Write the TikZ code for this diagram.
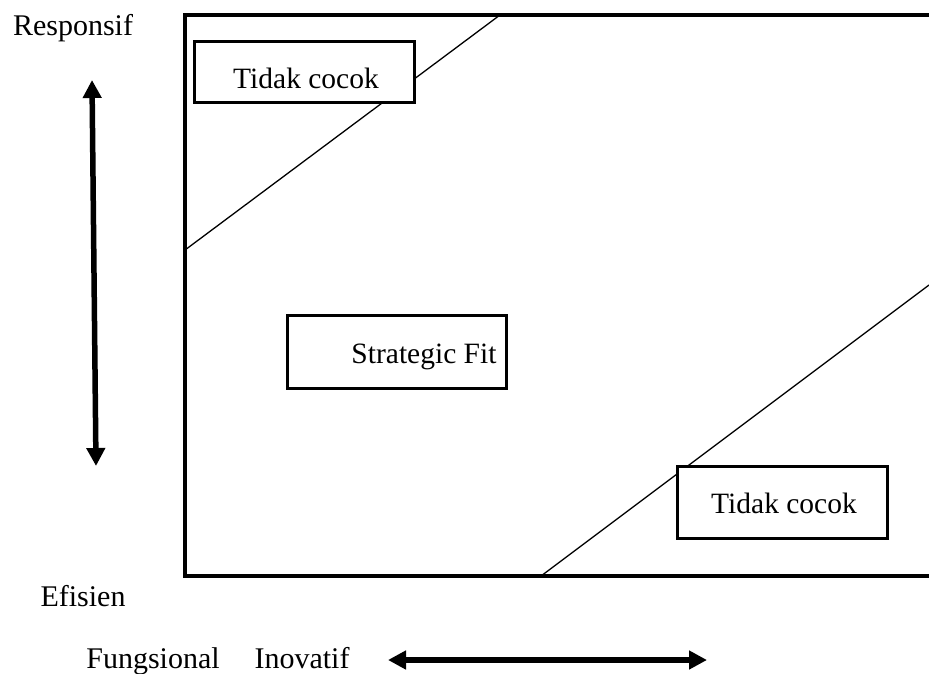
\documentclass[tikz,border=0pt]{standalone}
\usepackage{fontspec}
\setmainfont{Liberation Serif}
\usetikzlibrary{arrows.meta}
\begin{document}
\begin{tikzpicture}[x=1pt,y=-1pt,
  axislabel/.style={font=\fontsize{30}{36}\selectfont, anchor=base, inner sep=0pt},
  boxtext/.style={font=\fontsize{29.5}{35}\selectfont, anchor=base, inner sep=0pt},
  zonebox/.style={draw, line width=3pt, fill=white, inner sep=0pt},
  frame/.style={line width=3.5pt},
  divider/.style={line width=1.3pt},
  dimarrow/.style={line width=5.5pt, {Triangle[length=18pt,width=18pt]}-{Triangle[length=18pt,width=18pt]}}
]
\useasboundingbox (0,0) rectangle (929,673);

% corner points of the open frame (it runs past the right edge)
\coordinate (ftr) at (935,15);
\coordinate (ftl) at (185,15);
\coordinate (fbl) at (185,576);
\coordinate (fbr) at (935,576);

% diagonal boundaries of the fit band
\coordinate (d1a) at (185,250);
\coordinate (d1b) at (500,15);
\coordinate (d2a) at (541,576);
\coordinate (d2b) at (929,285);
\draw[divider] (d1a) -- (d1b);
\draw[divider] (d2a) -- (d2b);

\draw[frame] (ftr) -- (ftl) -- (fbl) -- (fbr);

% zones
\node[zonebox, minimum width=220pt, minimum height=61pt] (mis1) at (304,71.5) {};
\node[boxtext] (mis1t) at (306,88) {Tidak cocok};

\node[zonebox, minimum width=219pt, minimum height=73pt] (fit) at (396.5,351.5) {};
\node[boxtext] (fitt) at (424,363) {Strategic Fit};

\node[zonebox, minimum width=210pt, minimum height=72pt] (mis2) at (782,502) {};
\node[boxtext] (mis2t) at (784,513) {Tidak cocok};

% axis labels
\node[axislabel] (resp) at (73,35) {Responsif};
\node[axislabel] (efis) at (83,606) {Efisien};
\node[axislabel] (fung) at (153,668) {Fungsional};
\node[axislabel] (inov) at (302,668) {Inovatif};

% axis arrows
\coordinate (vtop) at (92,80);
\coordinate (vbot) at (96,466);
\coordinate (hl) at (388,660);
\coordinate (hr) at (707,660);
\draw[dimarrow] (vtop) -- (vbot);
\draw[dimarrow] (hl) -- (hr);
\end{tikzpicture}
\end{document}
